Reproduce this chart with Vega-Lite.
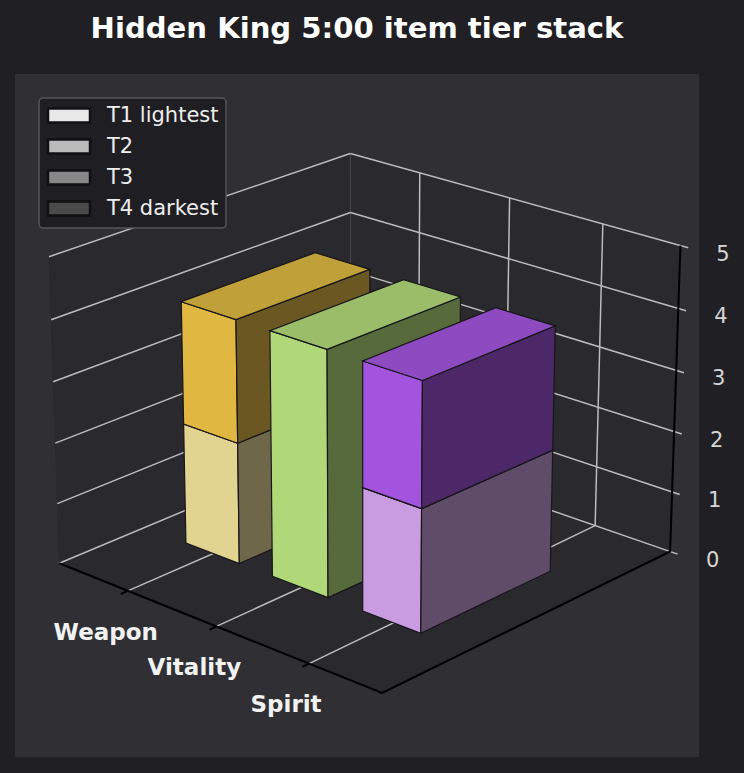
{
"$schema":"https://vega.github.io/schema/vega-lite/v6.json",
"width":684,"height":683,
"autosize":{"type":"none"},
"padding":{"left":15,"top":74,"right":45,"bottom":16},
"background":"#202024",
"view":{"fill":"#2f2f34","stroke":null},
"title":{"text":"Hidden King 5:00 item tier stack","color":"#ffffff","font":"DejaVu Sans","fontSize":29.1,"fontWeight":"bold","anchor":"middle","frame":"group","offset":30},
"datasets":{
"panes":[
{"pane":"floor","n":0,"u":0,"v":0,"z":0},{"pane":"floor","n":1,"u":1,"v":0,"z":0},{"pane":"floor","n":2,"u":1,"v":1,"z":0},{"pane":"floor","n":3,"u":0,"v":1,"z":0},
{"pane":"left","n":0,"u":0,"v":0,"z":0},{"pane":"left","n":1,"u":0,"v":1,"z":0},{"pane":"left","n":2,"u":0,"v":1,"z":5},{"pane":"left","n":3,"u":0,"v":0,"z":5},
{"pane":"back","n":0,"u":0,"v":1,"z":0},{"pane":"back","n":1,"u":1,"v":1,"z":0},{"pane":"back","n":2,"u":1,"v":1,"z":5},{"pane":"back","n":3,"u":0,"v":1,"z":5}],
"lines":[
{"id":"E","kind":"edge","n":0,"u":0,"v":1,"z":0},{"id":"E","kind":"edge","n":1,"u":0,"v":1,"z":5},
{"id":"L0","kind":"grid","n":0,"u":0,"v":0,"z":0},{"id":"L0","kind":"grid","n":1,"u":0,"v":1,"z":0},
{"id":"L1","kind":"grid","n":0,"u":0,"v":0,"z":1},{"id":"L1","kind":"grid","n":1,"u":0,"v":1,"z":1},
{"id":"L2","kind":"grid","n":0,"u":0,"v":0,"z":2},{"id":"L2","kind":"grid","n":1,"u":0,"v":1,"z":2},
{"id":"L3","kind":"grid","n":0,"u":0,"v":0,"z":3},{"id":"L3","kind":"grid","n":1,"u":0,"v":1,"z":3},
{"id":"L4","kind":"grid","n":0,"u":0,"v":0,"z":4},{"id":"L4","kind":"grid","n":1,"u":0,"v":1,"z":4},
{"id":"L5","kind":"grid","n":0,"u":0,"v":0,"z":5},{"id":"L5","kind":"grid","n":1,"u":0,"v":1,"z":5},
{"id":"B0","kind":"grid","n":0,"u":0,"v":1,"z":0},{"id":"B0","kind":"grid","n":1,"u":1.022,"v":1,"z":0},
{"id":"B1","kind":"grid","n":0,"u":0,"v":1,"z":1},{"id":"B1","kind":"grid","n":1,"u":1.022,"v":1,"z":1},
{"id":"B2","kind":"grid","n":0,"u":0,"v":1,"z":2},{"id":"B2","kind":"grid","n":1,"u":1.022,"v":1,"z":2},
{"id":"B3","kind":"grid","n":0,"u":0,"v":1,"z":3},{"id":"B3","kind":"grid","n":1,"u":1.022,"v":1,"z":3},
{"id":"B4","kind":"grid","n":0,"u":0,"v":1,"z":4},{"id":"B4","kind":"grid","n":1,"u":1.022,"v":1,"z":4},
{"id":"B5","kind":"grid","n":0,"u":0,"v":1,"z":5},{"id":"B5","kind":"grid","n":1,"u":1.022,"v":1,"z":5},
{"id":"F1","kind":"grid","n":0,"u":0.2254,"v":0,"z":0},{"id":"F1","kind":"grid","n":1,"u":0.223,"v":1,"z":0},{"id":"F1","kind":"grid","n":2,"u":0.223,"v":1,"z":5},
{"id":"F2","kind":"grid","n":0,"u":0.506,"v":0,"z":0},{"id":"F2","kind":"grid","n":1,"u":0.501,"v":1,"z":0},{"id":"F2","kind":"grid","n":2,"u":0.501,"v":1,"z":5},
{"id":"F3","kind":"grid","n":0,"u":0.787,"v":0,"z":0},{"id":"F3","kind":"grid","n":1,"u":0.778,"v":1,"z":0},{"id":"F3","kind":"grid","n":2,"u":0.778,"v":1,"z":5},
{"id":"T1","kind":"axis","n":0,"u":0.2254,"v":-0.022,"z":0},{"id":"T1","kind":"axis","n":1,"u":0.2254,"v":0,"z":0},
{"id":"T2","kind":"axis","n":0,"u":0.506,"v":-0.022,"z":0},{"id":"T2","kind":"axis","n":1,"u":0.506,"v":0,"z":0},
{"id":"T3","kind":"axis","n":0,"u":0.787,"v":-0.022,"z":0},{"id":"T3","kind":"axis","n":1,"u":0.787,"v":0,"z":0},
{"id":"A","kind":"axis","n":0,"u":0,"v":0,"z":0},{"id":"A","kind":"axis","n":1,"u":1,"v":0,"z":0},{"id":"A","kind":"axis","n":2,"u":1,"v":1,"z":0},{"id":"A","kind":"axis","n":3,"u":1,"v":1,"z":5}],
"bars":[
{"stat":"Weapon","tier":"T1 lightest","base":0,"value":2},
{"stat":"Weapon","tier":"T2","base":2,"value":2},
{"stat":"Vitality","tier":"T1 lightest","base":0,"value":4},
{"stat":"Spirit","tier":"T1 lightest","base":0,"value":2},
{"stat":"Spirit","tier":"T2","base":2,"value":2}],
"stats":[{"stat":"Weapon","u":0.2254},{"stat":"Vitality","u":0.506},{"stat":"Spirit","u":0.784}],
"levels":[{"level":0},{"level":1},{"level":2},{"level":3},{"level":4},{"level":5}],
"tiers":[{"tier":"T1 lightest"},{"tier":"T2"},{"tier":"T3"},{"tier":"T4 darkest"}]
},
"layer":[
{"data":{"name":"panes"},
"transform":[
{"calculate":"1-0.07477*datum.u+0.07809*datum.v-0.00655*datum.z","as":"w"},
{"calculate":"(59.3+294.23*datum.u+318.79*datum.v-2.38*datum.z)/datum.w","as":"px"},
{"calculate":"(563.3+77.89*datum.u-87.85*datum.v-63*datum.z)/datum.w","as":"py"}],
"mark":{"type":"line","interpolate":"linear-closed","fill":"#29292e","stroke":"#29292e","strokeWidth":0.5},
"encoding":{
"x":{"field":"px","type":"quantitative","scale":{"domain":[15,699]},"axis":null},
"y":{"field":"py","type":"quantitative","scale":{"domain":[757,74]},"axis":null},
"detail":{"field":"pane"},"order":{"field":"n"}}},
{"data":{"name":"lines"},
"transform":[
{"calculate":"1-0.07477*datum.u+0.07809*datum.v-0.00655*datum.z","as":"w"},
{"calculate":"(59.3+294.23*datum.u+318.79*datum.v-2.38*datum.z)/datum.w","as":"px"},
{"calculate":"(563.3+77.89*datum.u-87.85*datum.v-63*datum.z)/datum.w","as":"py"}],
"mark":{"type":"line","strokeJoin":"miter"},
"encoding":{
"x":{"field":"px","type":"quantitative","scale":{"domain":[15,699]},"axis":null},
"y":{"field":"py","type":"quantitative","scale":{"domain":[757,74]},"axis":null},
"detail":{"field":"id"},"order":{"field":"n"},
"stroke":{"field":"kind","type":"nominal","scale":{"domain":["edge","grid","axis"],"range":["#4a4a50","#bcbcbc","#000000"]},"legend":null},
"strokeWidth":{"field":"kind","type":"nominal","scale":{"domain":["edge","grid","axis"],"range":[1,2,1.5]},"legend":null}}},
{"data":{"name":"bars"},
"transform":[
{"calculate":"[0.222,0.5,0.7785][indexof(['Weapon','Vitality','Spirit'],datum.stat)]","as":"uc"},
{"calculate":"[{f:'front',n:0,s:-1,b:0,t:0},{f:'front',n:1,s:1,b:0,t:0},{f:'front',n:2,s:1,b:0,t:1},{f:'front',n:3,s:-1,b:0,t:1},{f:'side',n:0,s:1,b:0,t:0},{f:'side',n:1,s:1,b:1,t:0},{f:'side',n:2,s:1,b:1,t:1},{f:'side',n:3,s:1,b:0,t:1},{f:'top',n:0,s:-1,b:0,t:1},{f:'top',n:1,s:1,b:0,t:1},{f:'top',n:2,s:1,b:1,t:1},{f:'top',n:3,s:-1,b:1,t:1}]","as":"corners"},
{"flatten":["corners"]},
{"calculate":"datum.stat+' '+datum.tier+' '+datum.corners.f","as":"face"},
{"calculate":"datum.corners.n","as":"n"},
{"calculate":"datum.uc+0.0865*datum.corners.s","as":"u"},
{"calculate":"datum.corners.b==1?0.728:0.279","as":"v"},
{"calculate":"datum.corners.t==1?datum.base+datum.value:datum.base","as":"z"},
{"calculate":"1-0.07477*datum.u+0.07809*datum.v-0.00655*datum.z","as":"w"},
{"calculate":"(59.3+294.23*datum.u+318.79*datum.v-2.38*datum.z)/datum.w","as":"px"},
{"calculate":"(563.3+77.89*datum.u-87.85*datum.v-63*datum.z)/datum.w","as":"py"}],
"mark":{"type":"line","interpolate":"linear-closed","stroke":"#17171a","strokeWidth":1.2,"strokeJoin":"miter"},
"encoding":{
"x":{"field":"px","type":"quantitative","scale":{"domain":[15,699]},"axis":null},
"y":{"field":"py","type":"quantitative","scale":{"domain":[757,74]},"axis":null},
"detail":{"field":"face"},"order":{"field":"n"},
"fill":{"field":"face","type":"nominal","legend":null,"scale":{
"domain":["Weapon T1 lightest front","Weapon T1 lightest side","Weapon T1 lightest top","Weapon T2 front","Weapon T2 side","Weapon T2 top","Vitality T1 lightest front","Vitality T1 lightest side","Vitality T1 lightest top","Spirit T1 lightest front","Spirit T1 lightest side","Spirit T1 lightest top","Spirit T2 front","Spirit T2 side","Spirit T2 top"],
"range":["#e0d490","#6e674a","#c6bb80","#e0b741","#6b5721","#c0a038","#b0d878","#566a3c","#9bbd6a","#c99be1","#5f4c68","#b088c8","#a354de","#4d2868","#8e4ac0"]}}}},
{"data":{"name":"stats"},
"transform":[
{"calculate":"1-0.07477*datum.u","as":"w"},
{"calculate":"(59.3+294.23*datum.u)/datum.w","as":"px"},
{"calculate":"(563.3+77.89*datum.u)/datum.w","as":"py"}],
"mark":{"type":"text","font":"DejaVu Sans","fontSize":23,"fontWeight":"bold","color":"#f2f2f2","align":"center","baseline":"middle","dx":-22,"dy":42},
"encoding":{
"x":{"field":"px","type":"quantitative","scale":{"domain":[15,699]},"axis":null},
"y":{"field":"py","type":"quantitative","scale":{"domain":[757,74]},"axis":null},
"text":{"field":"stat"}}},
{"data":{"name":"levels"},
"transform":[
{"calculate":"1.00332-0.00655*datum.level","as":"w"},
{"calculate":"(672.32-2.38*datum.level)/datum.w","as":"px"},
{"calculate":"(553.34-63*datum.level)/datum.w","as":"py"}],
"mark":{"type":"text","font":"DejaVu Sans","fontSize":21,"color":"#d6d6d6","align":"center","baseline":"middle","dx":42.5,"dy":9},
"encoding":{
"x":{"field":"px","type":"quantitative","scale":{"domain":[15,699]},"axis":null},
"y":{"field":"py","type":"quantitative","scale":{"domain":[757,74]},"axis":null},
"text":{"field":"level","type":"quantitative"}}},
{"data":{"name":"tiers"},
"mark":{"type":"point","filled":true,"size":0},
"encoding":{
"fill":{"field":"tier","type":"nominal","scale":{"domain":["T1 lightest","T2","T3","T4 darkest"],"range":["#e8e8e8","#bbbbbb","#888888","#4a4a4a"]},
"legend":{"title":null,"orient":"none","legendX":24,"legendY":24,"padding":7,"fillColor":"#1f1f23","strokeColor":"#55555a","cornerRadius":4,"symbolType":"M-3,-1H3V1H-3Z","symbolSize":196,"symbolOffset":12.5,"symbolStrokeColor":"#111113","symbolStrokeWidth":2.5,"symbolOpacity":1,"labelOffset":27.5,"labelFont":"DejaVu Sans","labelFontSize":21,"labelColor":"#eeeeee","rowPadding":6,"encode":{"legend":{"update":{"strokeWidth":{"value":1.5}}}}}}}}
],
"resolve":{"scale":{"fill":"independent"}}
}
